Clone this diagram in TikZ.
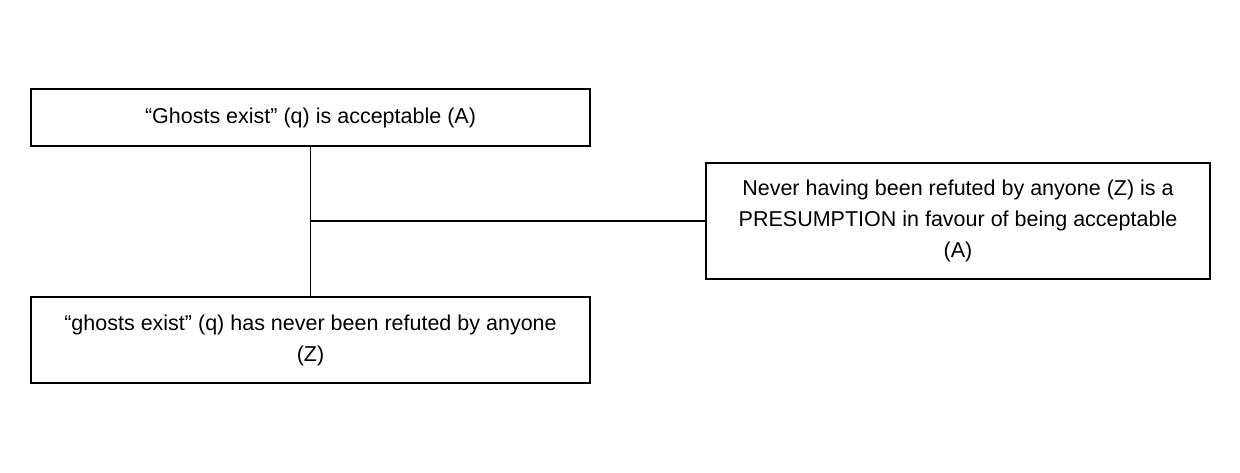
\documentclass[tikz,border=0pt]{standalone}
\usepackage{fontspec}
\setmainfont{Liberation Sans}
\usetikzlibrary{positioning}
\tikzset{
  claim/.style={draw, line width=1.3pt, align=center, inner sep=0pt,
    font=\fontsize{21.5}{31}\selectfont}
}
\begin{document}
\begin{tikzpicture}[x=1pt,y=-1pt]
        % Frame of the picture
        \useasboundingbox (0,0) rectangle (1240,473);

        % The conclusion and the premise
        \node[claim, minimum width=559pt, minimum height=57pt] (concl) at (310.5,117.5) {“Ghosts exist” (q) is acceptable (A)};
        \node[claim, minimum width=559pt, minimum height=86pt] (prem) at (310.5,340) {“ghosts exist” (q) has never been refuted by anyone\\(Z)};

        % The warrant on the side
        \node[claim, minimum width=504pt, minimum height=116pt] (warr) at (958,221) {Never having been refuted by anyone (Z) is a\\PRESUMPTION in favour of being acceptable\\(A)};

        % Links
        \coordinate (join) at (311,221);
        \draw[line width=1.3pt] (concl.south) -- (prem.north);
        \draw[line width=1.3pt] (join) -- (warr.west);
\end{tikzpicture}
\end{document}
